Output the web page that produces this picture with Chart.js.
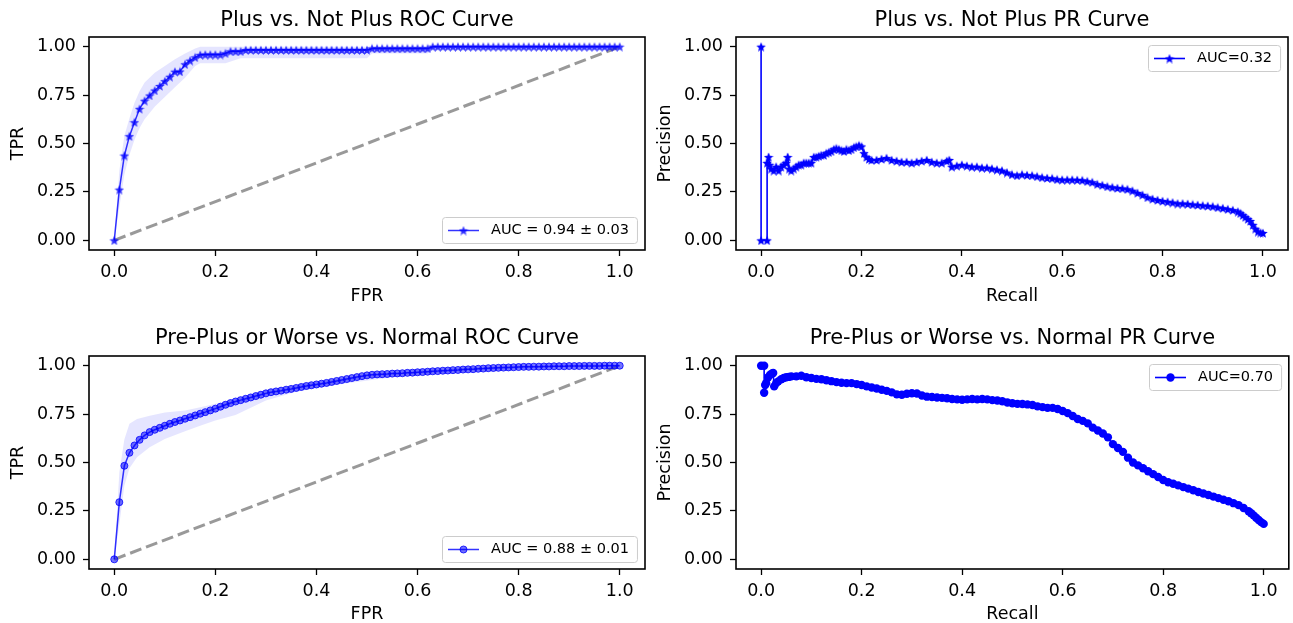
<!DOCTYPE html>
<html>
<head>
<meta charset="utf-8">
<script src="https://cdn.jsdelivr.net/npm/chart.js@4.4.0/dist/chart.umd.min.js"></script>
<style>
  html, body { margin: 0; padding: 0; background: #fff; overflow: hidden; }
  body { width: 1293px; height: 623px; position: relative; }
  .cell { position: absolute; }
  canvas { display: block; }
</style>
</head>
<body>
<div class="cell" style="left:0;top:0"><canvas id="roc-plus" width="660" height="312"></canvas></div>
<div class="cell" style="left:647px;top:0"><canvas id="pr-plus" width="646" height="312"></canvas></div>
<div class="cell" style="left:0;top:312px"><canvas id="roc-pre" width="660" height="320"></canvas></div>
<div class="cell" style="left:647px;top:312px"><canvas id="pr-pre" width="646" height="320"></canvas></div>
<script>
// ---- data ----
const xTickValues = [0, 0.2, 0.4, 0.6, 0.8, 1.0];
const yTickValues = [0, 0.25, 0.5, 0.75, 1.0];
const diagX = [0, 1];
const diagY = [0, 1];

// mean FPR grid used by both ROC plots
const rocFprGrid = [0.00,0.01,0.02,0.03,0.04,0.05,0.06,0.07,0.08,0.09,
  0.10,0.11,0.12,0.13,0.14,0.15,0.16,0.17,0.18,0.19,
  0.20,0.21,0.22,0.23,0.24,0.25,0.26,0.27,0.28,0.29,
  0.30,0.31,0.32,0.33,0.34,0.35,0.36,0.37,0.38,0.39,
  0.40,0.41,0.42,0.43,0.44,0.45,0.46,0.47,0.48,0.49,
  0.50,0.51,0.52,0.53,0.54,0.55,0.56,0.57,0.58,0.59,
  0.60,0.61,0.62,0.63,0.64,0.65,0.66,0.67,0.68,0.69,
  0.70,0.71,0.72,0.73,0.74,0.75,0.76,0.77,0.78,0.79,
  0.80,0.81,0.82,0.83,0.84,0.85,0.86,0.87,0.88,0.89,
  0.90,0.91,0.92,0.93,0.94,0.95,0.96,0.97,0.98,0.99,1.00];

// Plus vs. Not Plus ROC
const rocPlusTpr = [0,0.262,0.438,0.538,0.610,0.679,0.721,0.748,0.774,0.797,
  0.822,0.845,0.871,0.872,0.909,0.928,0.945,0.958,0.959,0.959,
  0.959,0.959,0.966,0.976,0.976,0.976,0.983,0.983,0.983,0.983,
  0.983,0.983,0.983,0.983,0.983,0.983,0.983,0.983,0.983,0.983,
  0.983,0.983,0.983,0.983,0.983,0.983,0.983,0.983,0.983,0.983,
  0.983,0.991,0.991,0.991,0.991,0.991,0.991,0.991,0.991,0.991,
  0.991,0.991,0.991,1,1,1,1,1,1,1,
  1,1,1,1,1,1,1,1,1,1,
  1,1,1,1,1,1,1,1,1,1,
  1,1,1,1,1,1,1,1,1,1,1];
const rocPlusBandX     = [0,0.01,0.02,0.03,0.04,0.05,0.06,0.08,0.10,0.12,0.14,0.16,0.17,0.22,0.25,0.50,0.51,0.62,0.63,1.0];
const rocPlusBandUpper = [0,0.36,0.54,0.63,0.71,0.77,0.815,0.865,0.90,0.935,0.965,0.99,1,1,1,1,1,1,1,1];
const rocPlusBandLower = [0,0.17,0.34,0.44,0.52,0.58,0.625,0.69,0.74,0.79,0.84,0.90,0.914,0.914,0.94,0.94,0.965,0.965,1,1];

// Pre-Plus or Worse vs. Normal ROC
const rocPreTpr = [0,0.295,0.483,0.550,0.588,0.617,0.640,0.657,0.669,0.679,
  0.690,0.700,0.709,0.717,0.726,0.734,0.743,0.752,0.760,0.769,
  0.778,0.788,0.798,0.807,0.815,0.822,0.829,0.836,0.843,0.850,
  0.857,0.863,0.867,0.871,0.876,0.880,0.885,0.890,0.895,0.899,
  0.903,0.907,0.911,0.916,0.921,0.926,0.931,0.936,0.941,0.946,
  0.950,0.953,0.955,0.956,0.957,0.959,0.960,0.961,0.963,0.964,
  0.966,0.967,0.969,0.971,0.972,0.974,0.975,0.977,0.978,0.980,
  0.981,0.982,0.984,0.985,0.987,0.988,0.989,0.990,0.991,0.992,
  0.993,0.994,0.994,0.995,0.995,0.996,0.996,0.997,0.997,0.997,
  0.998,0.998,0.998,0.999,0.999,0.999,0.999,1,1,1,1];
const rocPreBandX     = [0,0.01,0.02,0.03,0.045,0.07,0.10,0.14,0.17,0.20,0.24,0.30,0.36,0.45,0.58,0.70,0.85,1.0];
const rocPreBandUpper = [0,0.45,0.62,0.70,0.725,0.742,0.758,0.768,0.785,0.803,0.83,0.875,0.90,0.935,0.976,0.99,1,1];
const rocPreBandLower = [0,0.18,0.38,0.47,0.527,0.579,0.622,0.662,0.69,0.717,0.745,0.82,0.865,0.905,0.95,0.97,0.99,1];

// Plus vs. Not Plus PR
const prPlusRecall = [0,0,0.012,0.012,0.015,0.017,0.02,0.025,0.03,0.035,0.04,0.045,0.05,0.053,0.056,0.06,0.065,0.07,0.075,0.08,
  0.085,0.09,0.095,0.10,0.105,0.11,0.115,0.12,0.125,0.13,0.135,0.14,0.145,0.15,0.155,0.16,0.165,0.17,0.175,0.18,
  0.185,0.19,0.195,0.20,0.205,0.21,0.215,0.22,0.23,0.24,0.25,0.26,0.27,0.28,0.29,0.30,0.31,0.32,0.33,0.34,
  0.35,0.36,0.37,0.375,0.38,0.39,0.40,0.41,0.42,0.43,0.44,0.45,0.46,0.47,0.48,0.49,0.50,0.51,0.52,0.53,
  0.54,0.55,0.56,0.57,0.58,0.59,0.60,0.61,0.62,0.63,0.64,0.65,0.66,0.67,0.68,0.69,0.70,0.71,0.72,0.73,
  0.74,0.75,0.76,0.77,0.78,0.79,0.80,0.81,0.82,0.83,0.84,0.85,0.86,0.87,0.88,0.89,0.90,0.91,0.92,0.93,
  0.94,0.95,0.955,0.96,0.965,0.97,0.975,0.98,0.985,0.99,0.995,1.0];
const prPlusPrecision = [1.0,0,0,0.40,0.43,0.39,0.37,0.36,0.38,0.36,0.38,0.39,0.40,0.43,0.37,0.36,0.37,0.38,0.39,0.39,
  0.40,0.40,0.40,0.40,0.43,0.43,0.435,0.44,0.44,0.45,0.455,0.46,0.47,0.475,0.47,0.465,0.46,0.47,0.465,0.47,
  0.48,0.485,0.49,0.485,0.45,0.43,0.42,0.415,0.415,0.42,0.425,0.415,0.41,0.405,0.405,0.40,0.405,0.41,0.415,0.405,
  0.40,0.40,0.41,0.415,0.38,0.385,0.39,0.385,0.38,0.38,0.375,0.375,0.37,0.365,0.36,0.35,0.34,0.335,0.34,0.337,
  0.335,0.33,0.325,0.322,0.32,0.315,0.313,0.313,0.313,0.312,0.31,0.305,0.30,0.29,0.285,0.278,0.274,0.27,0.268,0.264,
  0.256,0.245,0.235,0.222,0.214,0.208,0.203,0.199,0.195,0.19,0.19,0.188,0.185,0.183,0.18,0.178,0.175,0.17,0.166,0.161,
  0.156,0.148,0.14,0.13,0.12,0.11,0.10,0.08,0.06,0.045,0.04,0.038];

// Pre-Plus or Worse vs. Normal PR
const prPreRecall = [0,0.006,0.006,0.008,0.01,0.014,0.018,0.022,0.024,0.026,0.03,0.034,0.04,0.045,0.05,0.055,0.06,0.07,0.08,0.09,
  0.10,0.11,0.12,0.13,0.14,0.15,0.16,0.17,0.18,0.19,0.20,0.21,0.22,0.23,0.24,0.25,0.26,0.27,0.28,0.29,
  0.30,0.31,0.32,0.33,0.34,0.35,0.36,0.37,0.38,0.39,0.40,0.41,0.42,0.43,0.44,0.45,0.46,0.47,0.48,0.49,
  0.50,0.51,0.52,0.53,0.54,0.55,0.56,0.57,0.58,0.59,0.60,0.61,0.62,0.63,0.64,0.65,0.66,0.67,0.68,0.69,
  0.70,0.71,0.72,0.73,0.74,0.75,0.76,0.77,0.78,0.79,0.80,0.81,0.82,0.83,0.84,0.85,0.86,0.87,0.88,0.89,
  0.90,0.91,0.92,0.93,0.94,0.95,0.96,0.97,0.975,0.98,0.985,0.99,0.995,1.0];
const prPrePrecision = [1.0,1.0,0.86,0.90,0.91,0.94,0.953,0.96,0.962,0.893,0.91,0.919,0.93,0.936,0.94,0.942,0.945,0.945,0.948,0.94,
  0.936,0.932,0.93,0.925,0.92,0.915,0.912,0.91,0.91,0.905,0.90,0.893,0.887,0.882,0.876,0.87,0.862,0.852,0.85,0.855,
  0.858,0.856,0.846,0.84,0.838,0.836,0.834,0.832,0.828,0.826,0.824,0.826,0.828,0.826,0.828,0.826,0.822,0.82,0.816,0.81,
  0.806,0.803,0.802,0.80,0.797,0.79,0.786,0.782,0.782,0.776,0.766,0.755,0.74,0.725,0.715,0.702,0.68,0.665,0.65,0.63,
  0.595,0.575,0.555,0.525,0.50,0.485,0.47,0.455,0.44,0.425,0.41,0.398,0.39,0.382,0.373,0.365,0.357,0.348,0.34,0.332,
  0.324,0.316,0.308,0.30,0.29,0.28,0.265,0.248,0.238,0.227,0.215,0.203,0.192,0.183];

// ---- styling ----
const FONT = "'DejaVu Sans', sans-serif";
Chart.defaults.font.family = FONT;
Chart.defaults.color = '#000';

const rocBlue = 'rgba(0,0,255,0.8)';
const bandFill = 'rgba(0,0,255,0.1)';
const diagGrey = 'rgba(128,128,128,0.8)';

function pts(xs, ys) {
  return xs.map((x, i) => ({ x: x, y: ys[i] }));
}

// little filled 5-point star, like matplotlib '*'
function makeStar(color, size) {
  const c = document.createElement('canvas');
  c.width = size; c.height = size;
  const g = c.getContext('2d');
  const r = size / 2, ri = r * 0.45;
  g.fillStyle = color;
  g.beginPath();
  for (let i = 0; i < 10; i++) {
    const rad = (i % 2 === 0) ? r : ri;
    const a = -Math.PI / 2 + i * Math.PI / 5;
    const px = r + rad * Math.cos(a), py = r + 0.6 + rad * Math.sin(a);
    if (i === 0) g.moveTo(px, py); else g.lineTo(px, py);
  }
  g.closePath();
  g.fill();
  return c;
}

// full box around the plot area, matplotlib style
const frame = {
  id: 'frame',
  afterDatasetsDraw(chart) {
    const { ctx, chartArea: a } = chart;
    ctx.save();
    ctx.strokeStyle = '#000';
    ctx.lineWidth = 1.6;
    ctx.strokeRect(a.left, a.top, a.right - a.left, a.bottom - a.top);
    ctx.restore();
  }
};

// legend box drawn inside the plot area
const boxLegend = {
  id: 'boxLegend',
  afterDraw(chart, args, opts) {
    const ds = chart.data.datasets[opts.index];
    const { ctx, chartArea: a } = chart;
    ctx.save();
    ctx.font = '14.5px ' + FONT;
    const tw = ctx.measureText(ds.label).width;
    const w = 6 + 31 + 12 + tw + 8, h = 26;
    const x = Math.round(a.right - 8 - w);
    const y = Math.round(opts.corner === 'top' ? a.top + 8 : a.bottom - 7 - h);
    ctx.fillStyle = 'rgba(255,255,255,0.8)';
    ctx.strokeStyle = '#cccccc';
    ctx.lineWidth = 1;
    ctx.beginPath();
    ctx.roundRect(x + 0.5, y + 0.5, w, h, 3);
    ctx.fill();
    ctx.stroke();
    const cy = y + h / 2 + 0.5;
    ctx.strokeStyle = ds.borderColor;
    ctx.lineWidth = ds.borderWidth;
    ctx.beginPath();
    ctx.moveTo(x + 6, cy);
    ctx.lineTo(x + 37, cy);
    ctx.stroke();
    ctx.fillStyle = ds.pointBackgroundColor;
    ctx.strokeStyle = ds.pointBorderColor;
    ctx.lineWidth = ds.pointBorderWidth;
    Chart.helpers.drawPoint(ctx, { pointStyle: ds.pointStyle, radius: ds.pointRadius, borderWidth: ds.pointBorderWidth, rotation: 0 }, x + 21.5, cy);
    ctx.fillStyle = '#000';
    ctx.textBaseline = 'middle';
    ctx.textAlign = 'left';
    ctx.fillText(ds.label, x + 49, cy);
    ctx.restore();
  }
};

function makeOptions(p) {
  const tickFont = { size: 17.5, family: FONT };
  return {
    responsive: false,
    animation: false,
    events: [],
    layout: { padding: { left: 0, right: p.padRight, top: 0, bottom: 0 } },
    plugins: {
      legend: { display: false },
      tooltip: { enabled: false },
      title: {
        display: true, text: p.title, fullSize: false, color: '#000',
        font: { size: 21, family: FONT, weight: 'normal' },
        padding: { top: p.titleTop, bottom: p.titleBottom }
      },
      boxLegend: { corner: p.legendCorner, index: p.legendIndex }
    },
    scales: {
      x: {
        type: 'linear', min: -0.05, max: 1.05,
        afterBuildTicks: s => { s.ticks = xTickValues.map(v => ({ value: v })); },
        afterFit: s => { s.height = p.xHeight; },
        ticks: { font: tickFont, color: '#000', padding: 6, maxRotation: 0, callback: v => v.toFixed(1) },
        grid: { drawOnChartArea: false, drawTicks: true, tickLength: 6, color: '#000', tickWidth: 1.3 },
        border: { display: false },
        title: { display: true, text: p.xLabel, color: '#000', font: tickFont, padding: { top: 0, bottom: p.xTitleBottom } }
      },
      y: {
        type: 'linear', min: -0.05, max: 1.05,
        afterBuildTicks: s => { s.ticks = yTickValues.map(v => ({ value: v })); },
        afterFit: s => { s.width = 89; },
        ticks: { font: tickFont, color: '#000', padding: 7, callback: v => v.toFixed(2) },
        grid: { drawOnChartArea: false, drawTicks: true, tickLength: 6, color: '#000', tickWidth: 1.3 },
        border: { display: false },
        title: { display: true, text: p.yLabel, color: '#000', font: tickFont, padding: { top: 7.5, bottom: 0 } }
      }
    }
  };
}

function bandSets(bx, up, lo) {
  return [
    { data: pts(bx, up), borderWidth: 0, pointRadius: 0, backgroundColor: bandFill, fill: '+1', order: 5 },
    { data: pts(bx, lo), borderWidth: 0, pointRadius: 0, backgroundColor: bandFill, fill: false, order: 5 }
  ];
}

function diagSet() {
  return { data: pts(diagX, diagY), borderColor: diagGrey, borderWidth: 3, borderDash: [12, 5], pointRadius: 0, fill: false, order: 3 };
}

const rocStar = makeStar(rocBlue, 10);
const prStar = makeStar('#0000ff', 10);

new Chart(document.getElementById('roc-plus'), {
  type: 'line',
  data: {
    datasets: [
      ...bandSets(rocPlusBandX, rocPlusBandUpper, rocPlusBandLower),
      diagSet(),
      { label: 'AUC = 0.94 \u00b1 0.03', data: pts(rocFprGrid, rocPlusTpr), borderColor: rocBlue, borderWidth: 1.5,
        pointStyle: rocStar, pointRadius: 5, pointBackgroundColor: rocBlue, pointBorderColor: rocBlue, pointBorderWidth: 0, fill: false, order: 1 }
    ]
  },
  options: makeOptions({ title: 'Plus vs. Not Plus ROC Curve', xLabel: 'FPR', yLabel: 'TPR', padRight: 15,
    titleTop: 8.4, titleBottom: 3.4, xHeight: 62, xTitleBottom: 5, legendCorner: 'bottom', legendIndex: 3 }),
  plugins: [frame, boxLegend]
});

new Chart(document.getElementById('pr-plus'), {
  type: 'line',
  data: {
    datasets: [
      { label: 'AUC=0.32', data: pts(prPlusRecall, prPlusPrecision), borderColor: '#0000ff', borderWidth: 1.6,
        pointStyle: prStar, pointRadius: 5, pointBackgroundColor: '#0000ff', pointBorderColor: '#0000ff', pointBorderWidth: 0, fill: false }
    ]
  },
  options: makeOptions({ title: 'Plus vs. Not Plus PR Curve', xLabel: 'Recall', yLabel: 'Precision', padRight: 1,
    titleTop: 8.4, titleBottom: 3.4, xHeight: 62, xTitleBottom: 5, legendCorner: 'top', legendIndex: 0 }),
  plugins: [frame, boxLegend]
});

new Chart(document.getElementById('roc-pre'), {
  type: 'line',
  data: {
    datasets: [
      ...bandSets(rocPreBandX, rocPreBandUpper, rocPreBandLower),
      diagSet(),
      { label: 'AUC = 0.88 \u00b1 0.01', data: pts(rocFprGrid, rocPreTpr), borderColor: rocBlue, borderWidth: 1.5,
        pointStyle: 'circle', pointRadius: 3.5, pointBackgroundColor: 'rgba(0,0,255,0.55)', pointBorderColor: rocBlue, pointBorderWidth: 1, fill: false, order: 1 }
    ]
  },
  options: makeOptions({ title: 'Pre-Plus or Worse vs. Normal ROC Curve', xLabel: 'FPR', yLabel: 'TPR', padRight: 15,
    titleTop: 13.8, titleBottom: 5, xHeight: 63, xTitleBottom: 7, legendCorner: 'bottom', legendIndex: 3 }),
  plugins: [frame, boxLegend]
});

new Chart(document.getElementById('pr-pre'), {
  type: 'line',
  data: {
    datasets: [
      { label: 'AUC=0.70', data: pts(prPreRecall, prPrePrecision), borderColor: '#0000ff', borderWidth: 1.6,
        pointStyle: 'circle', pointRadius: 4.2, pointBackgroundColor: '#0000ff', pointBorderColor: '#0000ff', pointBorderWidth: 0, fill: false }
    ]
  },
  options: makeOptions({ title: 'Pre-Plus or Worse vs. Normal PR Curve', xLabel: 'Recall', yLabel: 'Precision', padRight: 1,
    titleTop: 13.8, titleBottom: 5, xHeight: 63, xTitleBottom: 7, legendCorner: 'top', legendIndex: 0 }),
  plugins: [frame, boxLegend]
});
</script>
</body>
</html>
